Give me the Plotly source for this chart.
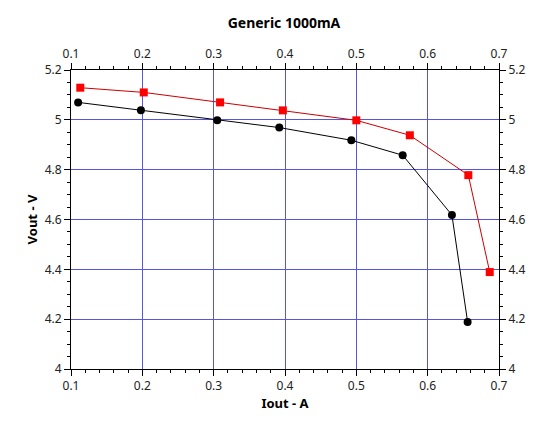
import plotly.graph_objects as go

black_x = [0.110, 0.198, 0.305, 0.392, 0.493, 0.565, 0.634, 0.656]
black_y = [5.070, 5.038, 4.998, 4.969, 4.918, 4.858, 4.618, 4.189]
red_x = [0.113, 0.202, 0.309, 0.397, 0.500, 0.575, 0.657, 0.687]
red_y = [5.129, 5.110, 5.070, 5.038, 4.998, 4.938, 4.778, 4.389]

fig = go.Figure()
fig.add_trace(go.Scatter(x=black_x, y=black_y, mode='lines+markers',
                         line=dict(color='black', width=1),
                         marker=dict(symbol='circle', size=8, color='black')))
fig.add_trace(go.Scatter(x=red_x, y=red_y, mode='lines+markers',
                         line=dict(color='#cc0000', width=1),
                         marker=dict(symbol='square', size=8, color='red')))

ax = dict(showline=True, linecolor='black', linewidth=1, ticks='outside',
          ticklen=6, tickcolor='black', gridcolor='#5555dd', gridwidth=1,
          zeroline=False, automargin=False, tickfont=dict(size=12, color='#222'),
          minor=dict(ticks='outside', ticklen=3, tickcolor='black', showgrid=False))
fig.update_layout(
    width=552, height=422, showlegend=False,
    plot_bgcolor='white', paper_bgcolor='white',
    font=dict(family='Noto Sans', color='black'),
    margin=dict(l=63, r=61, t=62, b=61),
    title=dict(text='<b>Generic 1000mA</b>', x=0.5, y=0.975, yanchor='top',
               font=dict(size=14)),
    xaxis=dict(ax, range=[0.1, 0.7], dtick=0.1, minor_dtick=0.02,
               title=dict(text='<b>Iout - A</b>', standoff=4, font=dict(size=13))),
    yaxis=dict(ax, range=[4, 5.2], dtick=0.2, minor_dtick=0.05,
               title=dict(text='<b>Vout - V</b>', standoff=4, font=dict(size=13))),
    xaxis2=dict(ax, range=[0.1, 0.7], dtick=0.1, minor_dtick=0.02,
                overlaying='x', side='top', showgrid=False),
    yaxis2=dict(ax, range=[4, 5.2], dtick=0.2, minor_dtick=0.05,
                overlaying='y', side='right', showgrid=False),
)
fig.add_trace(go.Scatter(x=[0.1], y=[4], xaxis='x2', yaxis='y2',
                         mode='markers', marker=dict(opacity=0), hoverinfo='skip'))
fig.write_html("out.html")
